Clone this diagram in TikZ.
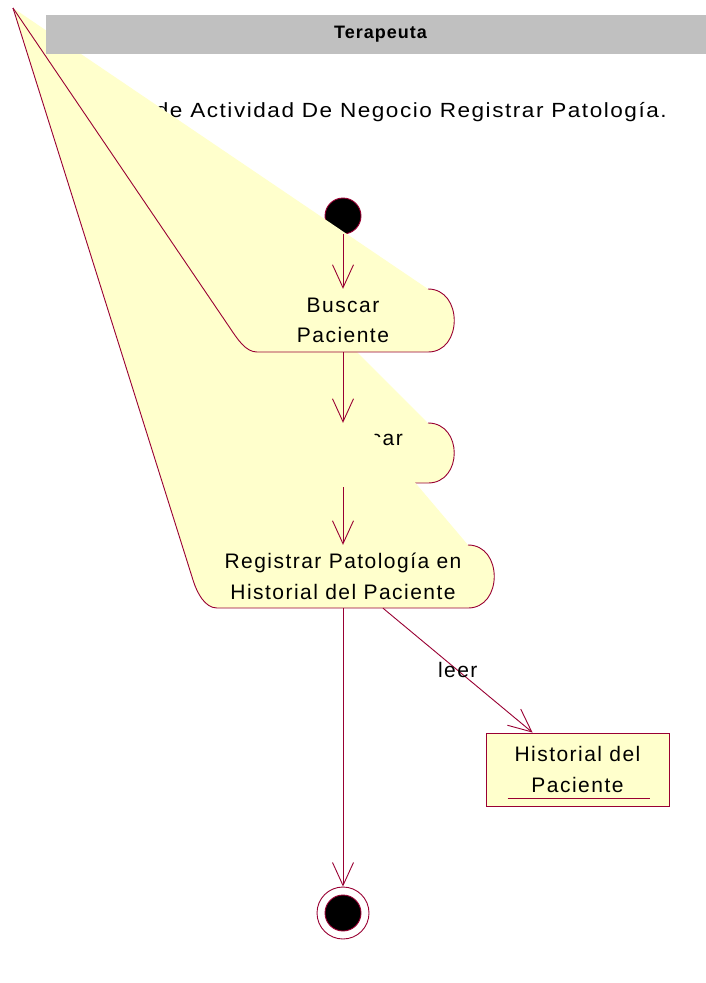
\documentclass[tikz,border=0pt]{standalone}
\usepackage{fontspec}
\setmainfont{Liberation Sans}
\newfontfamily\rosefont[LetterSpace=7]{Liberation Sans}
\newfontfamily\titlefont[FakeStretch=1.1,LetterSpace=7.5]{Liberation Sans}
\newfontfamily\hiddenfont{Liberation Sans}
\newfontfamily\barfont[LetterSpace=5.5]{Liberation Sans}
\usetikzlibrary{arrows.meta,calc}
\definecolor{roseline}{RGB}{153,0,51}
\definecolor{roseyellow}{RGB}{255,255,204}
\definecolor{barg}{RGB}{192,192,192}
\begin{document}
\begin{tikzpicture}[x=1pt,y=-1pt,
  outline/.style={draw=roseline,line width=0.9pt},
  wedge/.style={fill=roseyellow},
  flow/.style={draw=roseline,line width=0.9pt,-{Straight Barb[length=23pt,width=21pt]}},
  actfont/.style={font=\rosefont\fontsize{21}{30.5}\selectfont,align=center},
  actbox/.style={actfont,inner sep=0pt,minimum height=63pt},
]
\useasboundingbox[fill=white] (0,0) rectangle (705,983);

% title (partly hidden by the wedges)
\node[font=\titlefont\fontsize{20.5}{24}\selectfont,anchor=base east,inner sep=0pt] (title) at (667,117) {{\hiddenfont Diagram}a de Actividad De Negocio Registrar Patología.};

% initial state
\node[circle,fill=black,draw=roseline,line width=0.9pt,minimum size=36pt,inner sep=0pt] (init) at (343,216) {};

\coordinate (apex) at (13,8);

% activity 2 (mostly hidden)
\fill[wedge] (apex) -- (230,459) .. controls (236,471) and (246,483) .. (257,483) -- (428,483) .. controls (463,483) and (463,423) .. (428,423) -- cycle;
\draw[outline] (apex) -- (230,459) .. controls (236,471) and (246,483) .. (257,483) -- (428,483) .. controls (463,483) and (463,423) .. (428,423);
\node[actbox,minimum width=222pt,minimum height=60pt] (act2) at (343,453) {};
\node[actfont,anchor=base east,inner sep=0pt] (act2t) at (403,445) {Identificar};

% activity 3
\fill[wedge] (apex) -- (193,580) .. controls (197,593) and (205,608) .. (217,608) -- (468,608) .. controls (503,608) and (503,545) .. (468,545) -- cycle;
\draw[outline] (apex) -- (193,580) .. controls (197,593) and (205,608) .. (217,608) -- (468,608) .. controls (503,608) and (503,545) .. (468,545);
\node[actbox,minimum width=302pt] (act3) at (343,576.5) {Registrar Patología en\\Historial del Paciente};

% activity 1
\fill[wedge] (apex) -- (230,328) .. controls (238,340) and (246,352) .. (257,352) -- (428,352) .. controls (463,352) and (463,289) .. (428,289) -- cycle;
\draw[outline] (apex) -- (230,328) .. controls (238,340) and (246,352) .. (257,352) -- (428,352) .. controls (463,352) and (463,289) .. (428,289);
\node[actbox,minimum width=222pt] (act1) at (343,320.5) {Buscar\\Paciente};

% swimlane header
\node[fill=barg,minimum width=669pt,minimum height=39pt,inner sep=0pt,font=\barfont\bfseries\fontsize{18}{22}\selectfont] (lane) at (380.5,34.5) {Terapeuta};

% object
\node[draw=roseline,fill=roseyellow,line width=0.9pt,minimum width=183pt,minimum height=73pt,inner sep=0pt,actfont] (obj) at (577.5,769.5) {Historial del\\Paciente};
\draw[roseline,line width=0.9pt] ($(obj.south west)+(22,-8)$) coordinate (ul1) -- ($(obj.south east)+(-19,-8)$) coordinate (ul2);

% final state
\node[circle,fill=white,draw=roseline,line width=0.9pt,minimum size=52pt,inner sep=0pt] (fin) at (343,913) {};
\node[circle,fill=black,draw=roseline,line width=0.9pt,minimum size=36pt,inner sep=0pt] (finin) at (fin.center) {};

% transitions
\draw[flow] (init.south) -- (act1.north);
\draw[flow] (act1.south) -- (act2.north);
\draw[flow] ($(act2.south)+(0,4)$) coordinate (a2s) -- (act3.north);
\draw[flow] (act3.south) -- (fin.north);
\draw[flow] ($(act3.south)+(40,0)$) coordinate (a3s) -- node[actfont,inner sep=0pt] (leer) {leer} ($(obj.north west)+(47,0)$) coordinate (objn);
\end{tikzpicture}
\end{document}
